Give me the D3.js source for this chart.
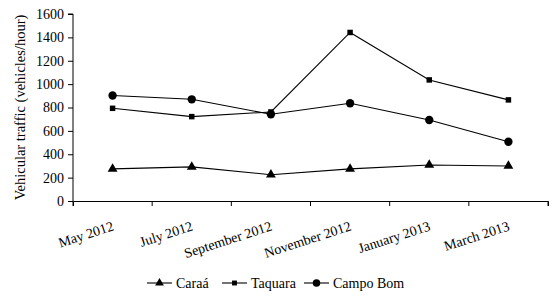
<!DOCTYPE html>
<html>
<head>
<meta charset="utf-8">
<script src="https://cdn.jsdelivr.net/npm/d3@7"></script>
<style>
  body { margin: 0; background: #fff; }
  svg text { font-family: "Liberation Serif", serif; fill: #000; }
</style>
</head>
<body>
<div id="chart"></div>
<script>
// Chart data
const months = ["May 2012", "July 2012", "September 2012", "November 2012", "January 2013", "March 2013"];
const caraa = [275, 292, 225, 275, 308, 300];
const taquara = [793, 722, 762, 1442, 1036, 865];
const campoBom = [903, 870, 742, 836, 693, 507];
const yTicks = [0, 200, 400, 600, 800, 1000, 1200, 1400, 1600];

const width = 555;
const height = 296;
const margin = { top: 14, right: 7, bottom: 95, left: 73 };
const serif = "'Liberation Serif', serif";

const svg = d3.select("#chart")
  .append("svg")
  .attr("width", width)
  .attr("height", height);

// Scales
const xScale = d3.scaleBand()
  .domain(months)
  .range([margin.left, width - margin.right]);

const yScale = d3.scaleLinear()
  .domain([0, 1600])
  .range([height - margin.bottom, margin.top]);

const cx = (i) => xScale(months[i]) + xScale.bandwidth() / 2;

// Axes
const xAxis = d3.axisBottom(xScale).tickSize(5).tickFormat("");
const yAxis = d3.axisLeft(yScale).tickValues(yTicks).tickSize(5).tickFormat(d3.format("d"));

const xg = svg.append("g")
  .attr("transform", `translate(0, ${height - margin.bottom})`)
  .call(xAxis);

// ticks sit on the band boundaries
xg.selectAll(".tick").remove();
xg.selectAll(".bt")
  .data(months.concat(["end"]))
  .enter()
  .append("line")
  .attr("x1", (d, i) => i < months.length ? xScale(d) : xScale.range()[1])
  .attr("x2", (d, i) => i < months.length ? xScale(d) : xScale.range()[1])
  .attr("y1", 0)
  .attr("y2", 5)
  .attr("stroke", "#000");

xg.selectAll(".lbl")
  .data(months)
  .enter()
  .append("text")
  .attr("text-anchor", "end")
  .style("font-family", serif)
  .style("font-size", "14px")
  .attr("transform", (d, i) => `translate(${cx(i) + 2}, 29) rotate(-18)`)
  .text((d) => d);

xg.select(".domain").attr("stroke", "#000");

const yg = svg.append("g")
  .attr("transform", `translate(${margin.left}, 0)`)
  .call(yAxis);
yg.selectAll("text")
  .style("font-family", serif)
  .style("font-size", "14px")
  .attr("fill", "#000")
  .attr("x", -9);
yg.select(".domain").attr("d", `M-5,${yScale(1600)}H0V${yScale(0)}`);

// Y title
svg.append("text")
  .attr("transform", `translate(25, ${(yScale(0) + yScale(1600)) / 2}) rotate(-90)`)
  .attr("text-anchor", "middle")
  .style("font-family", serif)
  .style("font-size", "14.5px")
  .text("Vehicular traffic (vehicles/hour)");

// Series
const series = [
  { name: "Caraá", values: caraa, symbol: d3.symbolTriangle, size: 42 },
  { name: "Taquara", values: taquara, symbol: d3.symbolSquare, size: 30 },
  { name: "Campo Bom", values: campoBom, symbol: d3.symbolCircle, size: 55 }
];

const line = d3.line()
  .x((d, i) => cx(i))
  .y((d) => yScale(d));

series.forEach((s) => {
  svg.append("path")
    .datum(s.values)
    .attr("fill", "none")
    .attr("stroke", "#000")
    .attr("stroke-width", 1.1)
    .attr("d", line);

  svg.selectAll(null)
    .data(s.values)
    .enter()
    .append("path")
    .attr("d", d3.symbol().type(s.symbol).size(s.size))
    .attr("transform", (d, i) => `translate(${cx(i)}, ${yScale(d)})`)
    .attr("fill", "#000");
});

// Legend
const legendX = [147, 222, 304];
const legendY = 283;
const legend = svg.append("g");
series.forEach((s, i) => {
  const g = legend.append("g").attr("transform", `translate(${legendX[i]}, ${legendY})`);
  g.append("line")
    .attr("x1", 0).attr("x2", 25)
    .attr("y1", 0).attr("y2", 0)
    .attr("stroke", "#000")
    .attr("stroke-width", 1.1);
  g.append("path")
    .attr("d", d3.symbol().type(s.symbol).size(s.size * 0.8))
    .attr("transform", "translate(12.5, 0)")
    .attr("fill", "#000");
  g.append("text")
    .attr("x", 29)
    .attr("y", 5)
    .style("font-family", serif)
    .style("font-size", "14px")
    .text(s.name);
});
</script>
</body>
</html>
